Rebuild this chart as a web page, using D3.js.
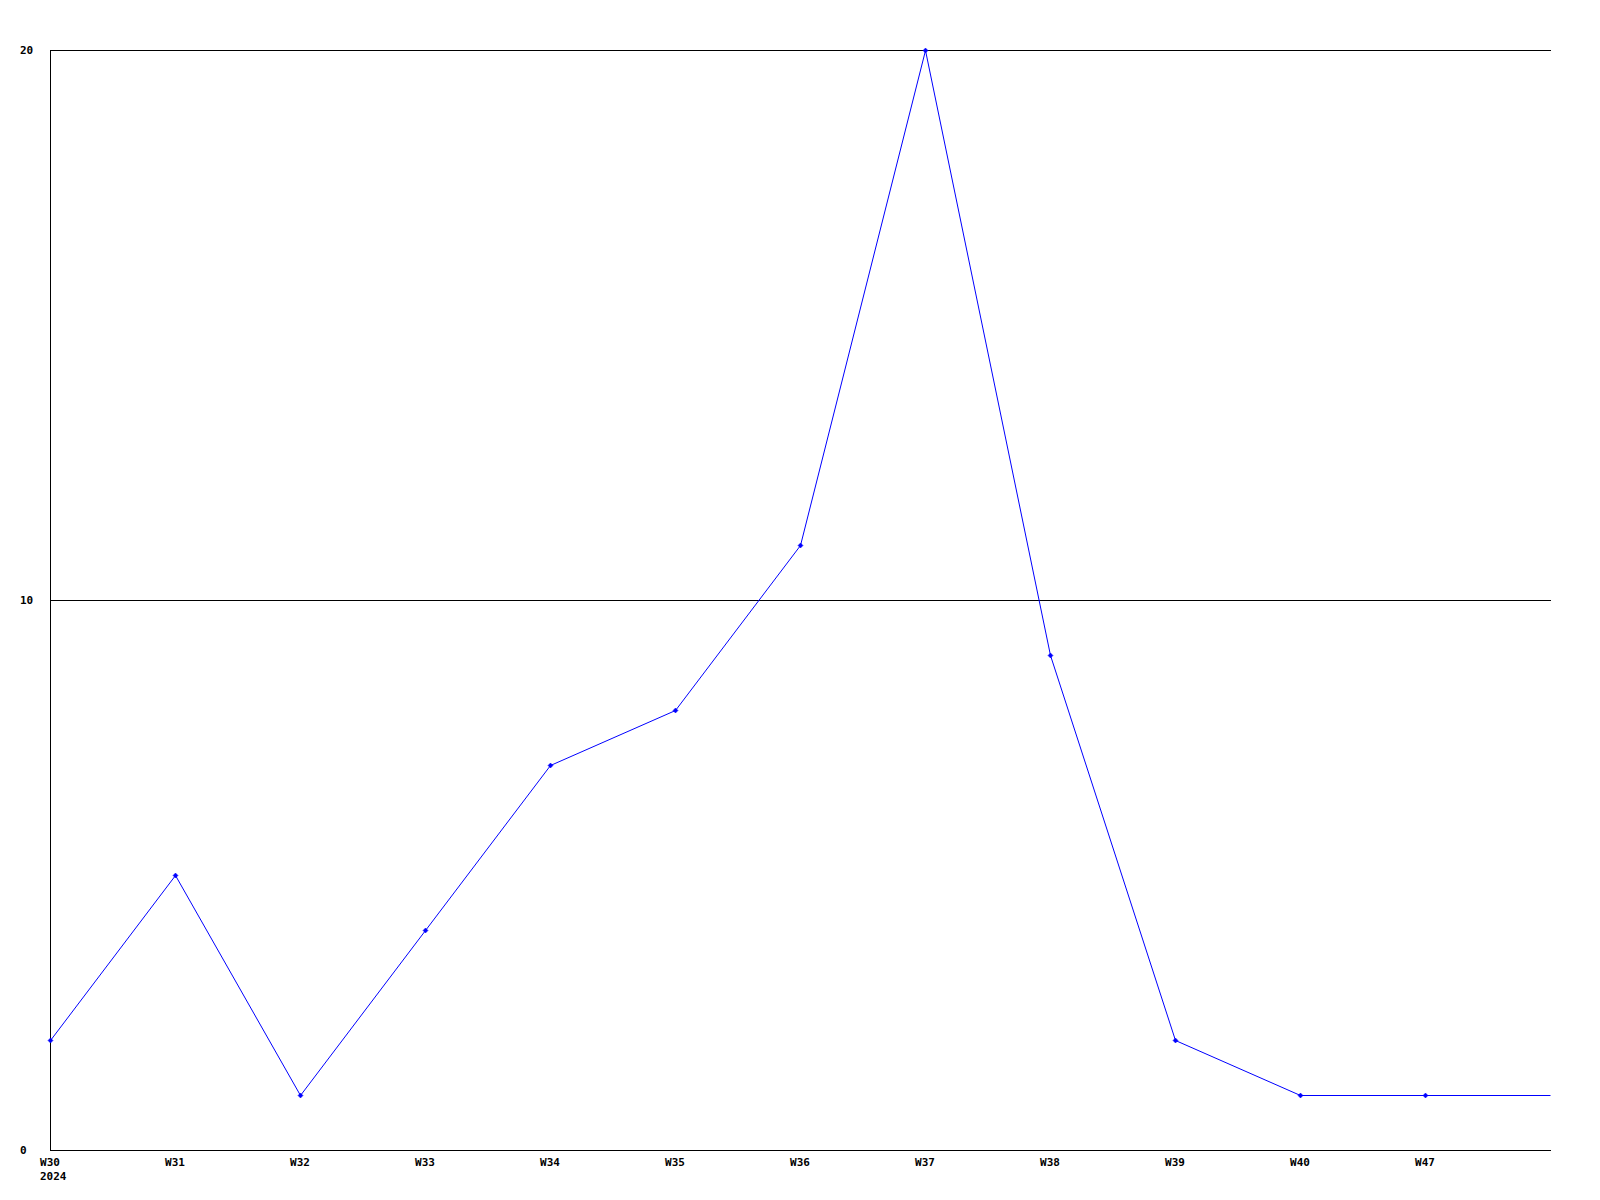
<!DOCTYPE html>
<html><head><meta charset="utf-8">
<script src="https://cdn.jsdelivr.net/npm/d3@7"></script>
<style>
body{margin:0;background:#fff;}
text{font-family:"DejaVu Sans Mono",monospace;font-weight:bold;font-size:11px;fill:#000;}
</style></head>
<body>
<script>
const categories = ["W30","W31","W32","W33","W34","W35","W36","W37","W38","W39","W40","W47"];
const values = [2,5,1,4,7,8,11,20,9,2,1,1];
const yTicks = [0,10,20];
const yearLabel = "2024";

const W=1600,H=1200, L=50, R=1550, T=50, B=1150;
const svg=d3.select("body").append("svg").attr("width",W).attr("height",H);

const x=d3.scaleLinear().domain([0,categories.length]).range([L,R]);
const y=d3.scaleLinear().domain([0,20]).range([B,T]);

// gridlines
svg.append("g").selectAll("line").data(yTicks.filter(d=>d>0)).join("line")
  .attr("x1",L).attr("x2",R+1).attr("y1",d=>y(d)+0.5).attr("y2",d=>y(d)+0.5)
  .attr("stroke","#000").attr("stroke-width",1);
// axes lines
svg.append("line").attr("x1",L+0.5).attr("x2",L+0.5).attr("y1",T).attr("y2",B+1).attr("stroke","#000");
svg.append("line").attr("x1",L).attr("x2",R+1).attr("y1",B+0.5).attr("y2",B+0.5).attr("stroke","#000");

// y labels
svg.append("g").selectAll("text").data(yTicks).join("text")
  .attr("x",20).attr("y",d=>y(d)+4).text(d=>d);

// x labels
svg.append("g").selectAll("text").data(categories).join("text")
  .attr("x",(d,i)=>x(i)).attr("y",1166).attr("text-anchor","middle").text(d=>d);
svg.append("text").attr("x",x(0)-10).attr("y",1180).text(yearLabel);

// line (extends last value to right edge)
const pts=values.map((v,i)=>[x(i),y(v)]);
pts.push([x(categories.length),y(values[values.length-1])]);
svg.append("path").attr("d",d3.line()(pts.map(p=>[p[0]+0.5,p[1]+0.5])))
  .attr("fill","none").attr("stroke","#0000ff").attr("stroke-width",1);

// markers
svg.append("g").selectAll("path").data(values).join("path")
  .attr("transform",(d,i)=>`translate(${x(i)+0.5},${y(d)+0.5})`)
  .attr("d","M-2.5,0L0,-2.5L2.5,0L0,2.5Z").attr("fill","#0000ff").attr("stroke","#0000ff").attr("stroke-width",0.5);
</script>
</body></html>
